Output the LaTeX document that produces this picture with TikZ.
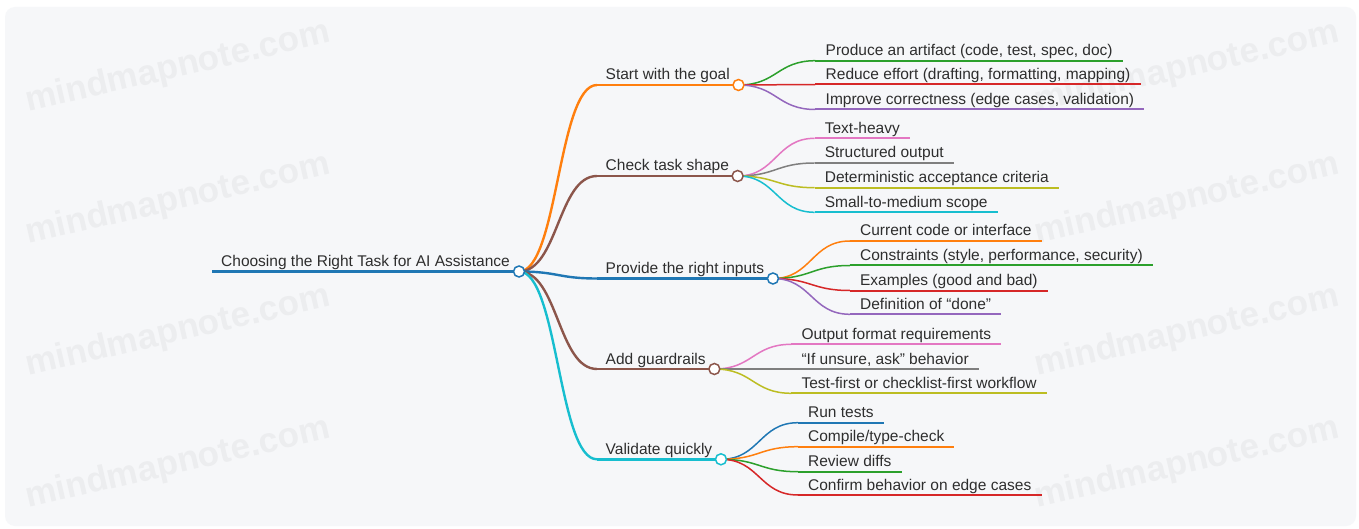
\documentclass[tikz,border=0pt]{standalone}
\usepackage{fontspec}
\setmainfont{Liberation Sans}
\usetikzlibrary{calc}
\definecolor{cblue}{HTML}{1F77B4}
\definecolor{corange}{HTML}{FF7F0E}
\definecolor{cgreen}{HTML}{2CA02C}
\definecolor{cred}{HTML}{D62728}
\definecolor{cpurple}{HTML}{9467BD}
\definecolor{cbrown}{HTML}{8C564B}
\definecolor{cpink}{HTML}{E377C2}
\definecolor{cgray}{HTML}{7F7F7F}
\definecolor{colive}{HTML}{BCBD22}
\definecolor{ccyan}{HTML}{17BECF}
\definecolor{bgc}{HTML}{F6F7F9}
\definecolor{wmc}{HTML}{ECEDEF}
\definecolor{tc}{HTML}{2E2E2E}
\newcommand\mmnode[5]{%
  \coordinate (#1S) at (#2 |- 0,#3);
  \node[txt] (#1T) at ($(#1S)+(#5,-5)$) {#4};
  \coordinate (#1E) at ($(#1T.east |- #1S)+(#5,0)$);
}
\newcommand\mmlink[3]{%
  \draw[#3] (#1) .. controls ($(#1)!0.5!(#2 |- #1)$) and ($(#1 |- #2)!0.5!(#2)$) .. (#2);
}
\tikzset{
  txt/.style={anchor=base west, inner sep=0pt, text=tc, font=\fontsize{15.5}{18}\selectfont},
  wm/.style={text=wmc, rotate=13, inner sep=0pt, font=\fontsize{35}{35}\selectfont\bfseries},
  dot/.style={circle, fill=white, line width=1.5pt, minimum size=11pt, inner sep=0pt},
  lone/.style={line width=2.6pt},
  ltwo/.style={line width=2pt},
  kone/.style={line width=2.4pt},
  ktwo/.style={line width=1.5pt},
}
\begin{document}
\begin{tikzpicture}[x=1pt,y=-1pt]
\useasboundingbox (0,0) rectangle (1359,529);
\fill[white] (0,0) rectangle (1359,529);
\fill[bgc, rounded corners=10pt] (5,7) rectangle (1356,526);
\foreach \yy in {68,200,332,464}{
  \node[wm] (wmL\yy) at (178,\yy) {mindmapnote.com};
  \node[wm] (wmR\yy) at (1187,\yy) {mindmapnote.com};
}
% root
\coordinate (rS) at (212,271.5);
\node[txt] (rT) at (221,266.5) {Choosing the Right Task for AI Assistance};
\coordinate (rE) at ($(rT.east |- rS)+(9,0)$);
\path (rE) ++(78,0) coordinate (rK);
% level 1
\mmnode{g}{rK}{85}{Start with the goal}{8.5}
\mmnode{s}{rK}{176}{Check task shape}{8.5}
\mmnode{i}{rK}{278.5}{Provide the right inputs}{8.5}
\mmnode{a}{rK}{369}{Add guardrails}{8.5}
\mmnode{v}{rK}{459.3}{Validate quickly}{8.5}
\path (gE) ++(77,0) coordinate (gK);
\path (sE) ++(77,0) coordinate (sK);
\path (iE) ++(77,0) coordinate (iK);
\path (aE) ++(77,0) coordinate (aK);
\path (vE) ++(77,0) coordinate (vK);
% level 2
\mmnode{ga}{gK}{60.7}{Produce an artifact (code, test, spec, doc)}{10}
\mmnode{gb}{gK}{84.5}{Reduce effort (drafting, formatting, mapping)}{10}
\mmnode{gc}{gK}{109.5}{Improve correctness (edge cases, validation)}{10}
\mmnode{sa}{sK}{138.3}{Text-heavy}{10}
\mmnode{sb}{sK}{163}{Structured output}{10}
\mmnode{sc}{sK}{187.7}{Deterministic acceptance criteria}{10}
\mmnode{sd}{sK}{212.3}{Small-to-medium scope}{10}
\mmnode{ia}{iK}{241}{Current code or interface}{10}
\mmnode{ib}{iK}{265.5}{Constraints (style, performance, security)}{10}
\mmnode{ic}{iK}{290.5}{Examples (good and bad)}{10}
\mmnode{id}{iK}{314.3}{Definition of “done”}{10}
\mmnode{aa}{aK}{344.3}{Output format requirements}{10}
\mmnode{ab}{aK}{369}{“If unsure, ask” behavior}{10}
\mmnode{ac}{aK}{393.3}{Test-first or checklist-first workflow}{10}
\mmnode{va}{vK}{422.7}{Run tests}{10}
\mmnode{vb}{vK}{446.7}{Compile/type-check}{10}
\mmnode{vc}{vK}{471.7}{Review diffs}{10}
\mmnode{vd}{vK}{495}{Confirm behavior on edge cases}{10}
% links
\mmlink{rE}{gS}{kone, corange}
\mmlink{rE}{sS}{kone, cbrown}
\mmlink{rE}{iS}{kone, cblue}
\mmlink{rE}{aS}{kone, cbrown}
\mmlink{rE}{vS}{kone, ccyan}
\mmlink{gE}{gaS}{ktwo, cgreen}
\mmlink{gE}{gbS}{ktwo, cred}
\mmlink{gE}{gcS}{ktwo, cpurple}
\mmlink{sE}{saS}{ktwo, cpink}
\mmlink{sE}{sbS}{ktwo, cgray}
\mmlink{sE}{scS}{ktwo, colive}
\mmlink{sE}{sdS}{ktwo, ccyan}
\mmlink{iE}{iaS}{ktwo, corange}
\mmlink{iE}{ibS}{ktwo, cgreen}
\mmlink{iE}{icS}{ktwo, cred}
\mmlink{iE}{idS}{ktwo, cpurple}
\mmlink{aE}{aaS}{ktwo, cpink}
\mmlink{aE}{abS}{ktwo, cgray}
\mmlink{aE}{acS}{ktwo, colive}
\mmlink{vE}{vaS}{ktwo, cblue}
\mmlink{vE}{vbS}{ktwo, corange}
\mmlink{vE}{vcS}{ktwo, cgreen}
\mmlink{vE}{vdS}{ktwo, cred}
% underlines
\draw[line width=3.5pt, cblue] (rS) -- (rE);
\draw[lone, corange] (gS) -- (gE);
\draw[lone, cbrown] (sS) -- (sE);
\draw[lone, cblue] (iS) -- (iE);
\draw[lone, cbrown] (aS) -- (aE);
\draw[lone, ccyan] (vS) -- (vE);
\draw[ltwo, cgreen] (gaS) -- (gaE);
\draw[ltwo, cred] (gbS) -- (gbE);
\draw[ltwo, cpurple] (gcS) -- (gcE);
\draw[ltwo, cpink] (saS) -- (saE);
\draw[ltwo, cgray] (sbS) -- (sbE);
\draw[ltwo, colive] (scS) -- (scE);
\draw[ltwo, ccyan] (sdS) -- (sdE);
\draw[ltwo, corange] (iaS) -- (iaE);
\draw[ltwo, cgreen] (ibS) -- (ibE);
\draw[ltwo, cred] (icS) -- (icE);
\draw[ltwo, cpurple] (idS) -- (idE);
\draw[ltwo, cpink] (aaS) -- (aaE);
\draw[ltwo, cgray] (abS) -- (abE);
\draw[ltwo, colive] (acS) -- (acE);
\draw[ltwo, cblue] (vaS) -- (vaE);
\draw[ltwo, corange] (vbS) -- (vbE);
\draw[ltwo, cgreen] (vcS) -- (vcE);
\draw[ltwo, cred] (vdS) -- (vdE);
% circles
\node[dot, draw=cblue] (rC) at (rE) {};
\node[dot, draw=corange] (gC) at (gE) {};
\node[dot, draw=cbrown] (sC) at (sE) {};
\node[dot, draw=cblue] (iC) at (iE) {};
\node[dot, draw=cbrown] (aC) at (aE) {};
\node[dot, draw=ccyan] (vC) at (vE) {};
\end{tikzpicture}
\end{document}
